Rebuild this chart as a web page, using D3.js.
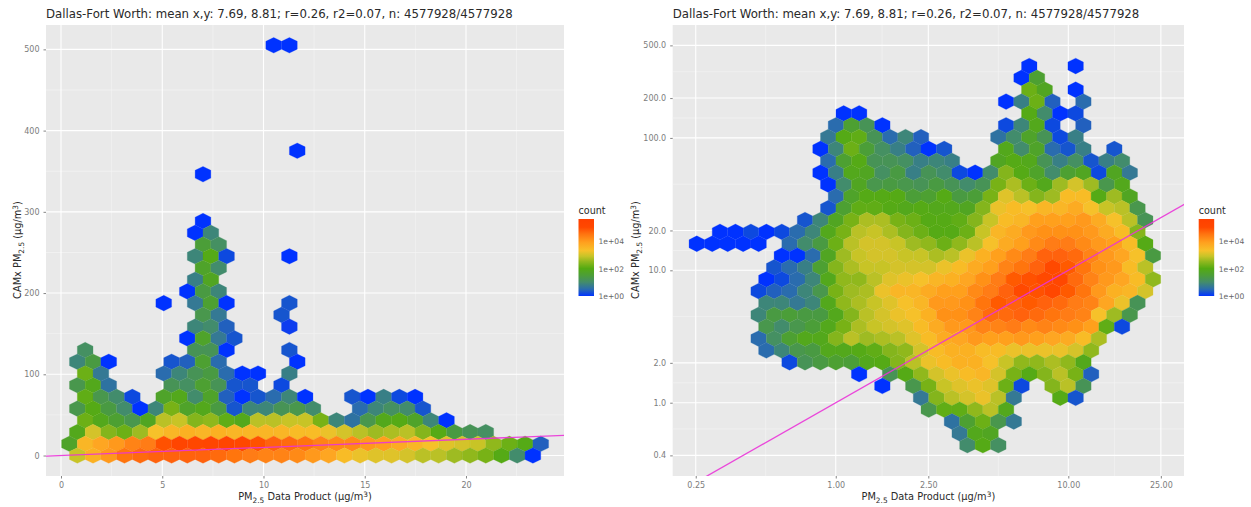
<!DOCTYPE html>
<html><head><meta charset="utf-8">
<script src="https://cdn.jsdelivr.net/npm/d3@7"></script>
<style>html,body{margin:0;padding:0;background:#fff}svg{display:block}text{font-family:"DejaVu Sans",sans-serif}</style>
</head><body><svg id="c" width="1251" height="507"></svg>
<script>
const titleText = "Dallas-Fort Worth: mean x,y: 7.69, 8.81; r=0.26, r2=0.07, n: 4577928/4577928";
const legendTicks = [0, 2, 4];
const legendLabels = ["1e+00", "1e+02", "1e+04"];
const legendMax = 5.6;
const colorStops = [0, 0.5, 1, 1.5, 2, 2.5, 2.9, 3.3, 3.9, 4.5, 5.0, 5.6];
const colorValues = ["#0033ff","#2a6cae","#438c6c","#4c9e38","#54aa12","#90b81e","#c8c428","#f6c12a","#ffa01e","#ff7410","#ff4800","#ff4000"];

/* linear panel */
const leftBinX = 0.7758, leftBinY = 14.43, leftX0 = 0.418;
const leftXTicks = [0, 5, 10, 15, 20];
const leftXMinor = [2.5, 7.5, 12.5, 17.5, 22.5];
const leftYTicks = [0, 100, 200, 300, 400, 500];
const leftYMinor = [50, 150, 250, 350, 450];
const leftRows = [
 {j:35,s:13,v:[0,0]},
 {j:26,s:14,v:[0]},
 {j:24,s:8,v:[0]},
 {j:20,s:8,v:[0]},
 {j:19,s:8,v:[0,0.9]},
 {j:18,s:8,v:[1.5,1.1]},
 {j:17,s:8,v:[0.9,2.0,0.2,null,null,null,0]},
 {j:16,s:8,v:[1.7,1.0]},
 {j:15,s:8,v:[0.8,1.8]},
 {j:14,s:7,v:[0,1.4,0.9]},
 {j:13,s:6,v:[0,null,0.7,1.6,0,null,null,null,0.3]},
 {j:12,s:8,v:[1.3,0.7,null,null,null,0.3]},
 {j:11,s:8,v:[0.9,1.0,0.4,null,null,null,0.1]},
 {j:10,s:7,v:[0,1.7,0.7,0.3]},
 {j:9,s:1,v:[1.1,null,null,null,null,null,null,1.2,1.2,0,null,null,null,0.3]},
 {j:8,s:0,v:[0.9,1.4,0,null,null,null,0.3,0.4,1.6,0.5,null,null,null,null,0]},
 {j:7,s:1,v:[2.2,0.7,null,null,null,0.5,0.9,1.2,1.4,0.5,0,0,null,0.8]},
 {j:6,s:0,v:[1.3,1.9,0.6,null,null,null,1.2,1.1,1.6,1.2,0.3,0.3,null,0.2]},
 {j:5,s:1,v:[2.1,1.3,1.0,0.2,null,1.7,1.9,1.0,1.7,0.4,0,0.3,0.5,0.9,0,null,null,0.3,0,0.8,0.2,0]},
 {j:4,s:0,v:[1.3,2.0,1.4,1.0,0,0.9,2.3,1.7,1.9,1.4,0.3,0.9,0.9,1.2,1.3,1.0,null,null,0.5,0.9,1.1,1.0,0.3]},
 {j:3,s:1,v:[2.2,1.9,1.6,1.3,1.8,2.8,2.9,2.4,2.5,2.1,1.9,2.8,2.8,2.9,2.9,2.3,0.9,0.6,1.3,1.9,2.0,1.7,0.9,0]},
 {j:2,s:0,v:[1.9,3.0,2.4,2.2,2.6,3.3,3.5,3.6,3.5,3.6,3.5,3.5,3.5,3.5,3.4,3.4,3.2,3.0,2.8,2.6,2.7,2.8,2.4,2.0,1.4,1.2,1.1]},
 {j:1,s:0,v:[1.7,3.5,3.8,4.0,4.3,4.4,4.9,5.2,5.1,5.2,5.3,5.1,4.9,4.7,4.6,4.5,4.3,4.2,4.2,4.0,3.9,3.7,3.5,3.3,3.1,3.0,2.9,2.5,2.2,2.0,0.4]},
 {j:0,s:0,v:[2.9,3.6,4.0,4.5,4.6,4.7,4.7,4.7,4.7,4.6,4.5,4.4,4.3,4.3,4.2,4.0,3.8,3.4,3.2,3.1,3.1,3.0,2.8,2.8,2.6,2.5,2.3,2.0,1.0,0]}
];

/* log panel */
const rightLogBinX = 0.0665, rightLogBinY = 0.0895, rightLogX0 = -0.6309, rightLogTopY = 2.543;
const rightXTicks = [0.25, 1, 2.5, 10, 25];
const rightXLabels = ["0.25","1.00","2.50","10.00","25.00"];
const rightYTicks = [0.4, 1, 2, 10, 20, 100, 200, 500];
const rightYLabels = ["0.4","1.0","2.0","10.0","20.0","100.0","200.0","500.0"];
const rightRows = [
 {k:0,s:22,v:[0,null,null,0]},
 {k:1,s:21,v:[0,1.6]},
 {k:2,s:22,v:[2.2,1.8,null,0]},
 {k:3,s:20,v:[0,0.8,2.2,0.4,null,0.5]},
 {k:4,s:10,v:[0,0,null,null,null,null,null,null,null,null,null,null,2.0,1.0,0,0.2]},
 {k:5,s:9,v:[0.5,1.6,1.2,0,null,null,null,null,null,null,null,0.2,0.9,1.9,0.2,null,0.4]},
 {k:6,s:9,v:[0.7,2.0,2.1,1.2,0.5,0.9,0.4,null,null,null,null,0.6,1.0,1.7,1.2,0.2,0.8]},
 {k:7,s:8,v:[0,0.9,2.2,1.5,1.1,0.8,0.4,0,0.3,null,null,null,1.9,1.0,1.7,0.5,0.3,0.8,null,0.3]},
 {k:8,s:9,v:[0.5,1.6,2.0,1.2,1.2,1.1,0.8,0.9,0.8,null,null,1.8,2.0,1.9,1.2,0.8,1.1,0.3,0.8,1.0]},
 {k:9,s:8,v:[0,0.8,1.9,1.8,1.1,1.4,0.8,1.2,1.0,0.2,0,1.0,2.4,2.0,1.7,1.0,1.6,1.8,0.2,1.8,0.7]},
 {k:10,s:9,v:[0,1.0,1.8,1.3,1.4,1.3,1.2,1.4,1.2,1.0,1.2,2.3,2.7,2.2,1.9,2.6,3.0,2.6,1.3,1.9]},
 {k:11,s:9,v:[0.5,1.7,2.0,2.0,2.0,1.5,1.6,2.0,1.4,1.5,2.3,3.1,2.8,2.4,2.6,3.4,3.4,2.0,2.6,1.8]},
 {k:12,s:9,v:[0.3,1.6,2.1,2.1,2.0,1.9,2.0,1.9,1.9,1.8,2.4,3.2,3.4,3.3,3.5,3.5,3.7,3.3,2.9,2.8,1.3]},
 {k:13,s:7,v:[0.3,0.9,1.8,2.3,2.7,2.7,2.3,2.2,2.0,2.0,2.1,2.4,2.9,3.4,3.5,3.9,3.9,3.9,4.0,3.7,3.3,2.8,1.2]},
 {k:14,s:2,v:[0,0,0.2,0,0.2,0.5,0.9,1.9,2.3,2.8,2.9,2.7,2.4,2.2,2.0,2.0,2.2,2.9,3.5,3.7,4.0,4.1,4.1,4.1,4.0,3.7,3.4,2.4]},
 {k:15,s:0,v:[0,0,0,0,0,null,0.5,1.0,1.4,2.2,2.8,3.0,3.0,2.9,2.6,2.5,2.2,2.5,2.8,3.3,3.7,3.9,4.2,4.4,4.4,4.2,4.0,3.9,3.4,2.0]},
 {k:16,s:6,v:[0,0,0.5,1.8,2.6,2.9,3.0,3.0,2.9,2.9,2.7,2.8,3.2,3.6,3.9,4.2,4.4,4.7,4.7,4.6,4.3,4.0,3.8,3.3,1.4]},
 {k:17,s:5,v:[0.3,0.5,0.8,1.6,2.4,2.7,2.9,2.9,3.0,3.0,3.0,3.2,3.4,3.7,3.9,4.3,4.5,4.7,5.0,4.8,4.5,4.1,4.0,3.4,2.8]},
 {k:18,s:5,v:[0,0.2,0.5,0.9,1.9,2.5,2.5,2.8,3.1,3.2,3.3,3.5,3.6,3.8,4.1,4.4,4.8,4.9,5.0,5.1,4.6,4.3,4.0,3.8,3.4,2.5]},
 {k:19,s:4,v:[0.2,0.4,0.5,0.9,1.3,2.3,2.6,2.7,3.2,3.5,3.5,3.7,3.9,3.9,4.2,4.4,4.7,5.0,4.9,5.1,4.8,4.5,4.0,3.6,3.5,3.0]},
 {k:20,s:5,v:[0.9,0.9,0.7,0.9,1.9,2.5,2.7,2.9,3.1,3.3,3.5,4.0,4.0,4.1,4.5,4.8,4.7,4.8,4.7,4.6,4.4,4.3,3.8,3.2,1.2]},
 {k:21,s:4,v:[0.9,1.4,1.5,1.4,1.4,1.9,2.4,2.8,3.0,3.2,3.3,3.6,4.1,4.1,4.3,4.6,4.6,4.7,4.6,4.5,4.4,4.3,3.3,2.6,1.3]},
 {k:22,s:5,v:[1.3,1.0,1.3,1.5,1.9,2.3,2.7,2.9,3.0,3.1,3.4,3.7,4.0,4.0,4.3,4.3,4.4,4.2,4.3,4.2,4.1,3.9,2.1,0.2]},
 {k:23,s:4,v:[0.5,1.1,1.6,1.9,1.9,2.4,2.8,2.6,2.7,2.8,3.1,3.4,3.7,3.8,4.0,3.9,3.9,4.0,3.9,3.8,3.7,3.4,2.7]},
 {k:24,s:5,v:[0.5,0.9,1.3,1.4,1.9,1.9,2.0,2.1,2.4,2.5,3.0,3.4,3.6,3.6,3.4,3.4,3.2,3.2,3.2,3.2,3.0,2.5]},
 {k:25,s:6,v:[0.2,1.2,1.4,1.6,1.5,1.9,2.0,2.4,2.8,3.2,3.4,3.6,3.6,3.3,2.9,2.5,2.5,2.7,2.5,1.9]},
 {k:26,s:11,v:[0,null,1.2,2.0,2.5,3.0,3.2,3.4,3.5,3.0,2.3,2.0,2.4,2.8,2.3,0.4]},
 {k:27,s:12,v:[0,null,1.3,2.3,2.9,3.1,3.2,3.1,2.2,0.2,null,2.4,2.8,1.2]},
 {k:28,s:15,v:[0.7,2.4,2.8,3.0,3.2,2.8,0.7,null,null,2.0,0.3]},
 {k:29,s:15,v:[1.3,2.1,2.1,2.5,2.8,1.9]},
 {k:30,s:17,v:[0.6,1.6,2.2,1.3,0.7]},
 {k:31,s:17,v:[0.7,1.9,1.8]},
 {k:32,s:18,v:[1.0,2.0,1.1]}
];

const svg = d3.select("#c");
const color = d3.scaleLinear().domain(colorStops).range(colorValues).clamp(true);
const defs = svg.append("defs");
defs.append("filter").attr("id","soft").attr("x","-2%").attr("y","-2%").attr("width","104%").attr("height","104%")
  .append("feGaussianBlur").attr("stdDeviation",0.55);

function hexPath(cx, cy, hw, hr) {
  const pts = [[0,-hr],[hw,-hr/2],[hw,hr/2],[0,hr],[-hw,hr/2],[-hw,-hr/2]];
  return "M" + pts.map(p => (cx+p[0]).toFixed(2)+","+(cy+p[1]).toFixed(2)).join("L") + "Z";
}
function label(t, pre, post) {
  t.append("tspan").text(pre + "PM");
  t.append("tspan").attr("dy", 3).attr("font-size", 7.4).text("2.5");
  t.append("tspan").attr("dy", -3).text(post);
  t.append("tspan").attr("dy", -3.5).attr("font-size", 7.4).text("3");
  t.append("tspan").attr("dy", 3.5).text(")");
}

function panel(o) {
  const g = svg.append("g");
  const [L,R,T,B] = o.box;
  g.append("rect").attr("x",L).attr("y",T).attr("width",R-L).attr("height",B-T).attr("fill","#e9e9e9");
  const clip = "clip"+Math.round(L);
  defs.append("clipPath").attr("id",clip).append("rect").attr("x",L).attr("y",T).attr("width",R-L).attr("height",B-T);
  const plot = g.append("g").attr("clip-path",`url(#${clip})`);
  plot.selectAll(".mx").data(o.xMinor).join("line").attr("x1",o.x).attr("x2",o.x).attr("y1",T).attr("y2",B).attr("stroke","#f3f3f3").attr("stroke-width",.7);
  plot.selectAll(".my").data(o.yMinor).join("line").attr("y1",o.y).attr("y2",o.y).attr("x1",L).attr("x2",R).attr("stroke","#f3f3f3").attr("stroke-width",.7);
  plot.selectAll(".jx").data(o.xTicks).join("line").attr("x1",o.x).attr("x2",o.x).attr("y1",T).attr("y2",B).attr("stroke","#fff").attr("stroke-width",1.1);
  plot.selectAll(".jy").data(o.yTicks).join("line").attr("y1",o.y).attr("y2",o.y).attr("x1",L).attr("x2",R).attr("stroke","#fff").attr("stroke-width",1.1);
  plot.append("g").attr("filter","url(#soft)").selectAll("path").data(o.cells).join("path")
    .attr("d", d => hexPath(o.x(d.x), o.y(d.y), o.halfW, o.halfH))
    .attr("fill", d => color(d.v)).attr("stroke", d => color(d.v)).attr("stroke-width",.25);
  plot.append("line").attr("x1",o.x(o.lineEnds[0])).attr("y1",o.y(o.lineEnds[0])).attr("x2",o.x(o.lineEnds[1])).attr("y2",o.y(o.lineEnds[1]))
    .attr("stroke","#ea34d8").attr("stroke-opacity",.9).attr("stroke-width",1.3);

  const style = s => { s.select(".domain").remove();
    s.selectAll("text").attr("font-size",8).attr("fill","#7c7c7c").attr("font-family","DejaVu Sans, sans-serif");
    s.selectAll("line").attr("stroke","#666").attr("stroke-width",.8); };
  g.append("g").attr("transform",`translate(0,${B})`).call(d3.axisBottom(o.x).tickValues(o.xTicks).tickSize(2.5).tickPadding(4).tickFormat((d,i)=>o.xLabels[i])).call(style);
  g.append("g").attr("transform",`translate(${L},0)`).call(d3.axisLeft(o.y).tickValues(o.yTicks).tickSize(2.5).tickPadding(4).tickFormat((d,i)=>o.yLabels[i])).call(style);

  g.append("text").attr("x",L).attr("y",17.5).attr("font-size",11.75).attr("fill","#2a2a2a").text(titleText);
  const xl = g.append("text").attr("x",(L+R)/2).attr("y",500).attr("text-anchor","middle").attr("font-size",9.8).attr("fill","#2a2a2a");
  label(xl,"", " Data Product (\u00b5g/m");
  const yl = g.append("text").attr("transform",`translate(${o.ylabX},250) rotate(-90)`).attr("text-anchor","middle").attr("font-size",9.8).attr("fill","#2a2a2a");
  label(yl,"CAMx ", " (\u00b5g/m");

  const lg = svg.append("g");
  const ly = d3.scaleLinear().domain([0,legendMax]).range([296,219]);
  const id = "grad"+Math.round(L);
  const grad = defs.append("linearGradient").attr("id",id).attr("x1",0).attr("x2",0).attr("y1",1).attr("y2",0);
  colorStops.forEach((s,i)=>grad.append("stop").attr("offset",s/legendMax).attr("stop-color",colorValues[i]));
  lg.append("rect").attr("x",o.legendX).attr("y",219).attr("width",15.5).attr("height",77).attr("fill",`url(#${id})`);
  lg.append("text").attr("x",o.legendX).attr("y",213.5).attr("font-size",9.6).attr("fill","#2a2a2a").text("count");
  lg.selectAll(".lt").data(legendTicks).join("text").attr("x",o.legendX+20).attr("y",d=>ly(d)+3).attr("font-size",7.6).attr("fill","#666").text((d,i)=>legendLabels[i]);
}

const leftX = d3.scaleLinear().domain([-0.741,24.84]).range([46,564]);
const leftY = d3.scaleLinear().domain([-25.2,530]).range([476,25]);
const leftCells = leftRows.flatMap(r => r.v.map((v,i)=> v===null?null:({
  x: leftX0 + (r.s+i)*leftBinX + (r.j%2===0 ? leftBinX/2 : 0),
  y: r.j*leftBinY, v})).filter(Boolean));
panel({box:[46,564,25,476], x:leftX, y:leftY, cells:leftCells,
  halfW:(leftX(leftBinX)-leftX(0))/2, halfH:(leftY(0)-leftY(leftBinY))*2/3,
  xTicks:leftXTicks, yTicks:leftYTicks, xMinor:leftXMinor, yMinor:leftYMinor,
  xLabels:leftXTicks.map(String), yLabels:leftYTicks.map(String),
  lineEnds:[-1,26], ylabX:21, legendX:578.5});

const rightX = d3.scaleLog().domain([0.199,31.44]).range([672.7,1184]);
const rightY = d3.scaleLog().domain([0.2795,712.8]).range([476,25]);
const gm = (a,b)=>Math.sqrt(a*b);
const rightCells = rightRows.flatMap(r => r.v.map((v,i)=> v===null?null:({
  x: Math.pow(10, rightLogX0 + (r.s+i)*rightLogBinX + (r.k%2===1 ? rightLogBinX/2 : 0)),
  y: Math.pow(10, rightLogTopY - r.k*rightLogBinY), v})).filter(Boolean));
panel({box:[672.7,1184,25,476], x:rightX, y:rightY, cells:rightCells,
  halfW:(rightX(Math.pow(10,rightLogBinX))-rightX(1))/2, halfH:(rightY(1)-rightY(Math.pow(10,rightLogBinY)))*2/3,
  xTicks:rightXTicks, yTicks:rightYTicks,
  xMinor:d3.pairs(rightXTicks).map(p=>gm(p[0],p[1])), yMinor:d3.pairs(rightYTicks).map(p=>gm(p[0],p[1])),
  xLabels:rightXLabels, yLabels:rightYLabels,
  lineEnds:[0.1,60], ylabX:639, legendX:1198.7});
</script>
</body></html>
